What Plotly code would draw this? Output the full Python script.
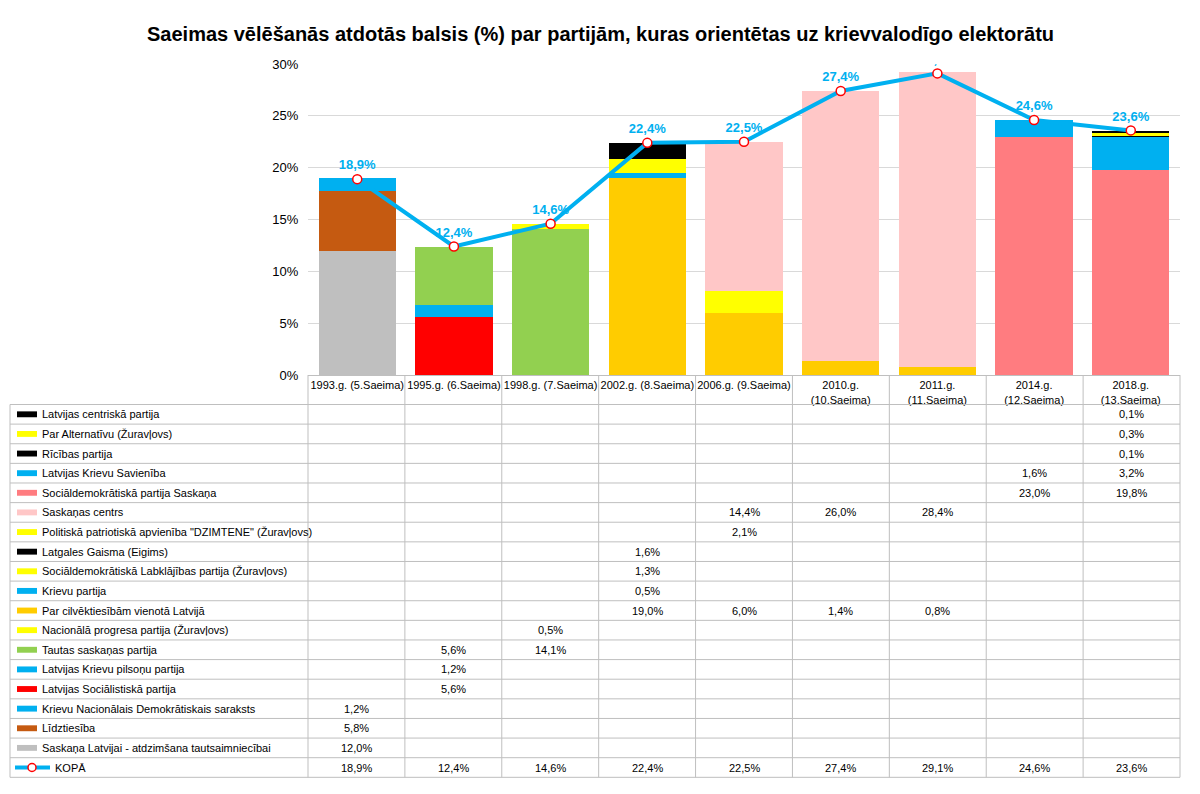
import plotly.graph_objects as go

years = ["1993.g. (5.Saeima)", "1995.g. (6.Saeima)", "1998.g. (7.Saeima)",
         "2002.g. (8.Saeima)", "2006.g. (9.Saeima)", "2010.g.<br>(10.Saeima)",
         "2011.g.<br>(11.Saeima)", "2014.g.<br>(12.Saeima)", "2018.g.<br>(13.Saeima)"]

# parties listed bottom of stack first
party_names = [
    "Saskaņa Latvijai - atdzimšana tautsaimniecībai",
    "Līdztiesība",
    "Krievu Nacionālais Demokrātiskais saraksts",
    "Latvijas Sociālistiskā partija",
    "Latvijas Krievu pilsoņu partija",
    "Tautas saskaņas partija",
    "Nacionālā progresa partija (Žuravļovs)",
    "Par cilvēktiesībām vienotā Latvijā",
    "Krievu partija",
    "Sociāldemokrātiskā Labklājības partija (Žuravļovs)",
    "Latgales Gaisma (Eigims)",
    "Politiskā patriotiskā apvienība \"DZIMTENE\" (Žuravļovs)",
    "Saskaņas centrs",
    "Sociāldemokrātiskā partija Saskaņa",
    "Latvijas Krievu Savienība",
    "Rīcības partija",
    "Par Alternatīvu (Žuravļovs)",
    "Latvijas centriskā partija",
]
party_colors = ["#BFBFBF", "#C55A11", "#00B0F0", "#FF0000", "#00B0F0", "#92D050",
                "#FFFF00", "#FFCC00", "#00B0F0", "#FFFF00", "#000000", "#FFFF00",
                "#FFC7C7", "#FF7C80", "#00B0F0", "#000000", "#FFFF00", "#000000"]
N = None
party_values = [
    [12.0, N, N, N, N, N, N, N, N],
    [5.8, N, N, N, N, N, N, N, N],
    [1.2, N, N, N, N, N, N, N, N],
    [N, 5.6, N, N, N, N, N, N, N],
    [N, 1.2, N, N, N, N, N, N, N],
    [N, 5.6, 14.1, N, N, N, N, N, N],
    [N, N, 0.5, N, N, N, N, N, N],
    [N, N, N, 19.0, 6.0, 1.4, 0.8, N, N],
    [N, N, N, 0.5, N, N, N, N, N],
    [N, N, N, 1.3, N, N, N, N, N],
    [N, N, N, 1.6, N, N, N, N, N],
    [N, N, N, N, 2.1, N, N, N, N],
    [N, N, N, N, 14.4, 26.0, 28.4, N, N],
    [N, N, N, N, N, N, N, 23.0, 19.8],
    [N, N, N, N, N, N, N, 1.6, 3.2],
    [N, N, N, N, N, N, N, N, 0.1],
    [N, N, N, N, N, N, N, N, 0.3],
    [N, N, N, N, N, N, N, N, 0.1],
]
total = [18.9, 12.4, 14.6, 22.4, 22.5, 27.4, 29.1, 24.6, 23.6]


def fmt(v):
    return f"{v:.1f}".replace(".", ",") + "%"


W, H = 1200, 794
OFF = 8  # page body margin
X0, X1, Y0, Y1 = 308, 1180, 58, 375
TL, TTOP, TBOT = 10, 405, 785
px = lambda x: (x - OFF) / W
py = lambda y: 1 - (y - OFF) / H

fig = go.Figure()
for name, col, vals in zip(party_names, party_colors, party_values):
    fig.add_trace(go.Bar(x=years, y=vals, name=name, marker_color=col,
                         marker_line_width=0, width=0.8))
fig.add_trace(go.Scatter(
    x=years, y=total, mode="lines+markers+text", name="KOPĀ",
    line=dict(color="#00B0F0", width=4),
    marker=dict(size=9, color="white", line=dict(color="#FF0000", width=1.5)),
    text=[fmt(v) for v in total], textposition="top center",
    textfont=dict(color="#00B0F0", size=13, family="Liberation Sans"),
    texttemplate="<b>%{text}</b>"))

shapes, annos = [], []
ncol = len(years)
cw = (X1 - X0) / ncol
rows = list(zip(party_names, party_colors, party_values))[::-1]
rows.append(("KOPĀ", None, total))
rh = (TBOT - TTOP) / len(rows)
line = dict(color="#BFBFBF", width=1)
for i in range(len(rows) + 1):
    y = TTOP + i * rh
    shapes.append(dict(type="line", xref="paper", yref="paper", x0=px(TL), x1=px(X1),
                       y0=py(y), y1=py(y), line=line))
shapes.append(dict(type="line", xref="paper", yref="paper", x0=px(TL), x1=px(TL),
                   y0=py(TTOP), y1=py(TBOT), line=line))
for k in range(ncol + 1):
    x = X0 + k * cw
    shapes.append(dict(type="line", xref="paper", yref="paper", x0=px(x), x1=px(x),
                       y0=py(Y1), y1=py(TBOT), line=line))
for i, (name, col, vals) in enumerate(rows):
    yc = TTOP + (i + 0.5) * rh
    if col:
        shapes.append(dict(type="rect", xref="paper", yref="paper", x0=px(17), x1=px(37),
                           y0=py(yc + 3), y1=py(yc - 3), fillcolor=col, line_width=0))
    else:
        shapes.append(dict(type="line", xref="paper", yref="paper", x0=px(15), x1=px(50),
                           y0=py(yc), y1=py(yc), line=dict(color="#00B0F0", width=4)))
        shapes.append(dict(type="circle", xref="paper", yref="paper", x0=px(28), x1=px(36),
                           y0=py(yc + 4), y1=py(yc - 4), fillcolor="white",
                           line=dict(color="#FF0000", width=1.5)))
    annos.append(dict(x=px(53 if not col else 40), y=py(yc), xref="paper", yref="paper",
                      text=name, showarrow=False, xanchor="left", yanchor="middle",
                      font=dict(size=11)))
    for k, v in enumerate(vals):
        if v is not None:
            annos.append(dict(x=px(X0 + (k + 0.5) * cw), y=py(yc), xref="paper", yref="paper",
                              text=fmt(v), showarrow=False, xanchor="center",
                              yanchor="middle", font=dict(size=11)))
annos.append(dict(x=px(600), y=py(27), xref="paper", yref="paper", showarrow=False,
                  xanchor="center", yanchor="middle",
                  text="<b>Saeimas vēlēšanās atdotās balsis (%) par partijām, kuras orientētas uz krievvalodīgo elektorātu</b>",
                  font=dict(size=20, color="black")))

fig.update_layout(
    width=W, height=H, barmode="stack", showlegend=False,
    margin=dict(l=0, r=0, t=0, b=0), plot_bgcolor="white", paper_bgcolor="white",
    font=dict(family="Liberation Sans", color="black", size=11),
    xaxis=dict(domain=[px(X0), px(X1)], showgrid=False, ticks="", tickfont=dict(size=11),
               showline=True, linecolor="#BFBFBF"),
    yaxis=dict(domain=[py(Y1), py(Y0)], range=[0, 30], tickvals=[0, 5, 10, 15, 20, 25, 30],
               ticktext=["0%", "5%", "10%", "15%", "20%", "25%", "30%"],
               gridcolor="#D9D9D9", zeroline=False, tickfont=dict(size=13), ticklen=6,
               ticks="outside", tickcolor="white"),
    shapes=shapes, annotations=annos,
)
fig.write_html("out.html")
